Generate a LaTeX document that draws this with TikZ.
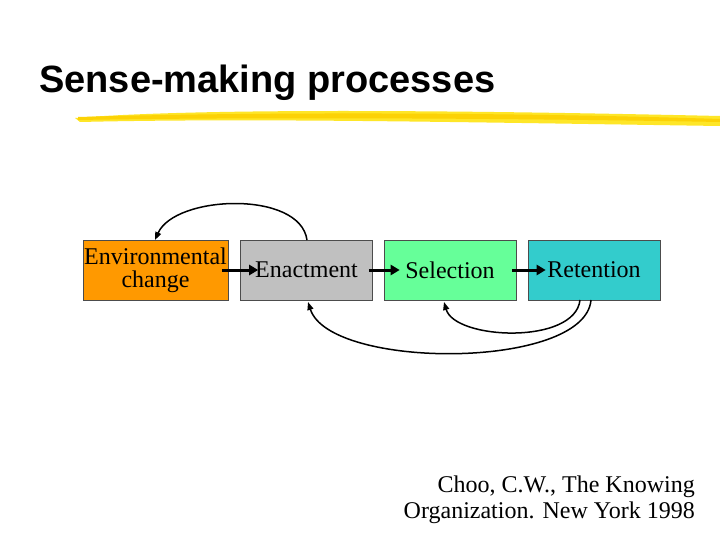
\documentclass[tikz,border=0pt]{standalone}
\usepackage{fontspec}
\setmainfont{Liberation Serif}
\newfontfamily\titlefont{Liberation Sans}
\usetikzlibrary{arrows.meta}
\begin{document}
\begin{tikzpicture}[x=1pt,y=-1pt,
  box/.style={draw=black!70,line width=0.6pt,minimum width=132pt,minimum height=60pt,inner sep=0pt,font=\fontsize{24}{26}\selectfont,align=center},
  thick arrow/.style={line width=3pt,-{Triangle[length=9pt,width=10pt]}},
  loop/.style={line width=1.5pt,-{Triangle[length=8pt,width=6pt]}}]
\useasboundingbox (0,0) rectangle (720,540);
\fill[white] (0,0) rectangle (720,540);
\node[anchor=west,font=\titlefont\bfseries\fontsize{38}{40}\selectfont,inner sep=0pt] (title) at (39,83) {Sense-making processes};
\fill[yellow!85!orange,opacity=0.85] (75,118) .. controls (200,108) and (450,110) .. (720,116) -- (720,126) .. controls (450,122) and (250,118) .. (80,122) -- cycle;
\fill[yellow!70!orange] (78,117) .. controls (250,112) and (500,112) .. (720,119) -- (720,122) .. controls (500,118) and (250,117) .. (78,120) -- cycle;
\node[box,fill={rgb,255:red,255;green,153;blue,0},minimum width=145pt] (env) at (155.5,270) {Environmental\\[-3pt]change};
\node[box,fill={rgb,255:red,192;green,192;blue,192}] (ena) at (306.5,270) {Enactment};
\node[box,fill={rgb,255:red,102;green,255;blue,153}] (sel) at (450,270) {Selection};
\node[box,fill={rgb,255:red,51;green,204;blue,204}] (ret) at (594,270) {Retention};
\draw[thick arrow] ([xshift=-6pt]env.east) -- ([xshift=18pt]ena.west);
\draw[thick arrow] ([xshift=-4pt]ena.east) -- ([xshift=16pt]sel.west);
\draw[thick arrow] ([xshift=-4pt]sel.east) -- ([xshift=18pt]ret.west);
\coordinate (a1) at (307,240);
\coordinate (a2) at (155,240);
\draw[loop] (a1) .. controls (300,190) and (175,195) .. (a2);
\coordinate (b1) at (580,300);
\coordinate (b2) at (444,302);
\draw[loop] (b1) .. controls (575,345) and (455,340) .. (b2);
\coordinate (c1) at (591,300);
\coordinate (c2) at (308,302);
\draw[loop] (c1) .. controls (585,370) and (330,370) .. (c2);
\node[align=right,anchor=north east,font=\fontsize{24}{26}\selectfont,inner sep=0pt] (cite) at (695,476) {Choo, C.W., The Knowing\\Organization. New York 1998};
\end{tikzpicture}
\end{document}
